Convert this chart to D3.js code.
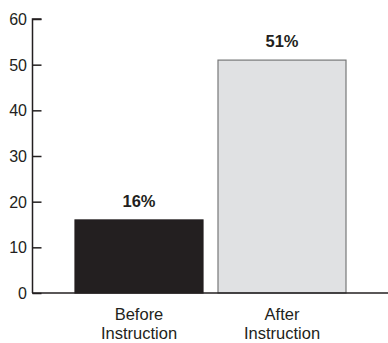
<!DOCTYPE html>
<html>
<head>
<meta charset="utf-8">
<script src="https://cdn.jsdelivr.net/npm/d3@7"></script>
<style>
  html, body { margin: 0; padding: 0; background: #fff; }
  svg { display: block; }
</style>
</head>
<body>
<svg id="chart" width="388" height="343"></svg>
<script>
const categories = ["Before\nInstruction", "After\nInstruction"];
const values = [16, 51];
const valueLabels = ["16%", "51%"];
const yTicks = [0, 10, 20, 30, 40, 50, 60];
const fills = ["#231f20", "#e0e1e3"];
const strokes = ["#231f20", "#777879"];

const svg = d3.select("#chart");
const font = "'Liberation Sans', Arial, sans-serif";

const y = d3.scaleLinear().domain([0, 60]).range([293, 19]);
const x = d3.scaleBand().domain(categories).range([67.5, 353.5])
  .paddingInner(15 / 143).paddingOuter(7.5 / 143);

// bars
svg.selectAll("rect.bar").data(values).join("rect")
  .attr("class", "bar")
  .attr("x", (d, i) => x(categories[i]))
  .attr("y", d => y(d))
  .attr("width", x.bandwidth())
  .attr("height", d => y(0) - y(d))
  .attr("fill", (d, i) => fills[i])
  .attr("stroke", (d, i) => strokes[i])
  .attr("stroke-width", 1.2);

// value labels
svg.selectAll("text.val").data(values).join("text")
  .attr("class", "val")
  .attr("x", (d, i) => x(categories[i]) + x.bandwidth() / 2)
  .attr("y", d => y(d) - 13)
  .attr("text-anchor", "middle")
  .attr("font-family", font)
  .attr("font-weight", "bold")
  .attr("font-size", 16.5)
  .attr("fill", "#231f20")
  .text((d, i) => valueLabels[i]);

// y axis with inward ticks
const yAxis = d3.axisRight(y).tickValues(yTicks).tickSize(9).tickFormat(() => "");
const ya = svg.append("g").attr("transform", "translate(32.5,0)").call(yAxis);
ya.select(".domain").attr("d", `M9,${y(60)}H0V${y(0)}`).attr("stroke", "#231f20").attr("stroke-width", 1.5);
ya.selectAll(".tick line").attr("stroke", "#231f20").attr("stroke-width", 1.5);

svg.selectAll("text.ytick").data(yTicks).join("text")
  .attr("class", "ytick")
  .attr("x", 27)
  .attr("y", d => y(d) + 6)
  .attr("text-anchor", "end")
  .attr("font-family", font)
  .attr("font-size", 16)
  .attr("fill", "#231f20")
  .text(d => d);

// baseline
svg.append("line")
  .attr("x1", 32).attr("x2", 388)
  .attr("y1", y(0)).attr("y2", y(0))
  .attr("stroke", "#231f20").attr("stroke-width", 1.5);

// category labels
categories.forEach(c => {
  const t = svg.append("text")
    .attr("text-anchor", "middle")
    .attr("font-family", font)
    .attr("font-size", 16.5)
    .attr("fill", "#231f20");
  c.split("\n").forEach((line, j) => {
    t.append("tspan")
      .attr("x", x(c) + x.bandwidth() / 2)
      .attr("y", 320 + j * 19)
      .text(line);
  });
});
</script>
</body>
</html>
